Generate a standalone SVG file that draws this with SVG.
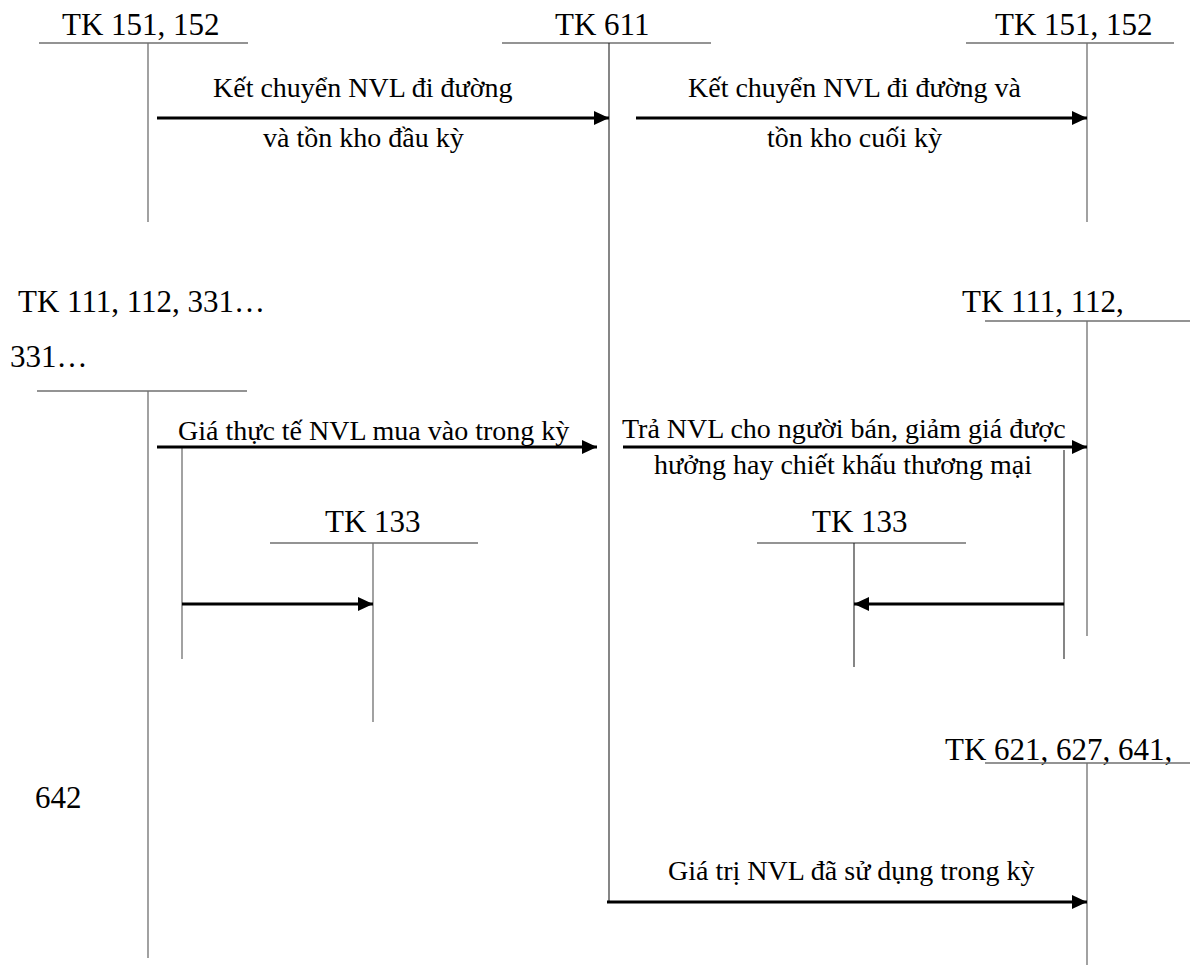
<svg xmlns="http://www.w3.org/2000/svg" width="1190" height="967" viewBox="0 0 1190 967">
<style>
.t{font-family:"Liberation Serif","Times New Roman",serif;font-size:31px;fill:#000}
.l{font-family:"Liberation Serif","Times New Roman",serif;font-size:28px;fill:#000}
.acc{stroke:#707070;stroke-width:1.3;fill:none}
.acc2{stroke:#222;stroke-width:1.1;fill:none}
.arr{stroke:#000;stroke-width:3;fill:none;marker-end:url(#ah)}
</style>
<defs>
<marker id="ah" markerUnits="userSpaceOnUse" markerWidth="16" markerHeight="16" refX="15" refY="8" orient="auto">
<path d="M0,1 L15,8 L0,15 Z" fill="#000"/>
</marker>
</defs>
<rect width="1190" height="967" fill="#fff"/>
<g id="tk151-left">
<text class="t" x="62" y="35">TK 151, 152</text>
<path class="acc" d="M39,43 H248 M148,43 V222"/>
</g>
<g id="tk611">
<text class="t" x="555" y="35">TK 611</text>
<path class="acc" d="M502,43 H711"/>
<path class="acc2" d="M609,43 V902"/>
</g>
<g id="tk151-right">
<text class="t" x="995" y="35">TK 151, 152</text>
<path class="acc" d="M966,43 H1174 M1087,43 V222"/>
</g>
<g id="tk111-left">
<text class="t" x="18" y="312">TK 111, 112, 331…</text>
<text class="t" x="10" y="367">331…</text>
<path class="acc" d="M37,391 H247 M148,391 V958"/>
<path class="acc" d="M182,447 V659"/>
</g>
<g id="tk111-right">
<text class="t" x="962" y="312">TK 111, 112,</text>
<path class="acc" d="M985,321 H1190 M1087,321 V636"/>
<path class="acc2" d="M1064,450 V659"/>
</g>
<g id="tk133-left">
<text class="t" x="325" y="532">TK 133</text>
<path class="acc" d="M270,543 H478 M373,543 V722"/>
</g>
<g id="tk133-right">
<text class="t" x="812" y="532">TK 133</text>
<path class="acc" d="M757,543 H966"/>
<path class="acc2" d="M854,543 V667"/>
</g>
<g id="tk621">
<text class="t" x="945" y="760">TK 621, 627, 641,</text>
<text class="t" x="35" y="808">642</text>
<path class="acc" d="M985,763 H1190 M1087,763 V965"/>
</g>
<g id="connectors">
<path class="arr" d="M157,118 H609"/>
<text class="l" x="213" y="97">Kết chuyển NVL đi đường</text>
<text class="l" x="263" y="147">và tồn kho đầu kỳ</text>
<path class="arr" d="M636,118 H1087"/>
<text class="l" x="688" y="97">Kết chuyển NVL đi đường và</text>
<text class="l" x="767" y="147">tồn kho cuối kỳ</text>
<path class="arr" d="M157,447 H597"/>
<text class="l" x="178" y="440">Giá thực tế NVL mua vào trong kỳ</text>
<path class="arr" d="M623,447 H1087"/>
<text class="l" x="622" y="438">Trả NVL cho người bán, giảm giá được</text>
<text class="l" x="654" y="474">hưởng hay chiết khấu thương mại</text>
<path class="arr" d="M182,604 H373"/>
<path class="arr" d="M1064,604 H854"/>
<path class="arr" d="M607,902 H1087"/>
<text class="l" x="668" y="880">Giá trị NVL đã sử dụng trong kỳ</text>
</g>
</svg>
